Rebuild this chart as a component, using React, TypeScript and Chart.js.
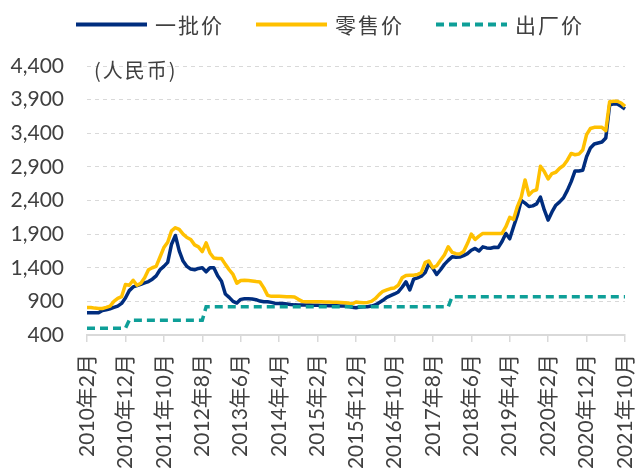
import React, { useEffect, useRef } from 'react';
import { Chart, registerables } from 'chart.js';

Chart.register(...registerables);

// ---- Data ----
const START_YEAR = 2010;
const START_MONTH = 2;
const MONTH_COUNT = 141;
const months: string[] = [];
for (let i = 0; i < MONTH_COUNT; i++) {
  const m = START_MONTH - 1 + i;
  months.push(`${START_YEAR + Math.floor(m / 12)}年${(m % 12) + 1}月`);
}

const seriesNames = ['一批价', '零售价', '出厂价'];

// 一批价 (wholesale)
const wholesale = [
  730, 730, 730, 730, 765, 775, 790, 810, 830, 870,
  950, 1060, 1115, 1135, 1155, 1175, 1195, 1230, 1280, 1370,
  1420, 1480, 1750, 1880, 1650, 1500, 1420, 1380, 1370, 1390,
  1400, 1340, 1400, 1400, 1280, 1200, 1010, 960, 900, 875,
  930, 940, 940, 935, 925, 905, 895, 895, 885, 870,
  870, 868, 860, 852, 848, 846, 846, 846, 846, 844,
  842, 840, 838, 836, 835, 834, 833, 831, 825, 811,
  806, 815, 821, 821, 830, 846, 880, 915, 960, 985,
  1010, 1040, 1110, 1190, 1070, 1230, 1250, 1275, 1330, 1463,
  1390, 1300, 1370, 1450, 1510, 1562, 1555, 1560, 1580, 1610,
  1660, 1687, 1650, 1711, 1695, 1690, 1705, 1700, 1790, 1910,
  1830, 2010, 2180, 2400, 2360, 2310, 2320, 2350, 2450, 2260,
  2110, 2230, 2330, 2380, 2440, 2550, 2680, 2840, 2840, 2850,
  3050, 3180, 3240, 3255, 3270, 3330, 3820, 3836, 3836, 3800,
  3760,
];

// 零售价 (retail)
const retail = [
  810, 810, 800, 795, 795, 810, 830, 900, 945, 970,
  1150, 1140, 1214, 1140, 1170, 1250, 1370, 1400, 1420, 1560,
  1700, 1780, 1950, 1995, 1970, 1900, 1850, 1820, 1740, 1710,
  1640, 1770, 1620, 1545, 1537, 1537, 1450, 1370, 1300, 1170,
  1210, 1214, 1212, 1204, 1195, 1189, 1100, 990, 975, 975,
  975, 972, 970, 968, 965, 930, 900, 895, 895, 895,
  895, 893, 892, 890, 888, 886, 885, 880, 875, 860,
  890, 885, 880, 885, 900, 940, 1000, 1050, 1070, 1090,
  1100, 1140, 1250, 1285, 1288, 1290, 1300, 1330, 1480, 1500,
  1400, 1430, 1510, 1590, 1711, 1630, 1610, 1605, 1640, 1760,
  1900, 1820, 1870, 1911, 1911, 1911, 1911, 1911, 1911, 2010,
  2150, 2120, 2310, 2450, 2706, 2480, 2540, 2560, 2910, 2830,
  2720, 2800, 2820, 2880, 2920, 3000, 3100, 3080, 3090, 3150,
  3380, 3470, 3488, 3488, 3488, 3440, 3870, 3876, 3876, 3850,
  3800,
];

// 出厂价 (ex-factory)
const factory = [
  499, 499, 499, 499, 499, 499, 499, 499, 499, 499,
  499, 619, 619, 619, 619, 619, 619, 619, 619, 619,
  619, 619, 619, 619, 619, 619, 619, 619, 619, 619,
  619, 819, 819, 819, 819, 819, 819, 819, 819, 819,
  819, 819, 819, 819, 819, 819, 819, 819, 819, 819,
  819, 819, 819, 819, 819, 819, 819, 819, 819, 819,
  819, 819, 819, 819, 819, 819, 819, 819, 819, 819,
  819, 819, 819, 819, 819, 819, 819, 819, 819, 819,
  819, 819, 819, 819, 819, 819, 819, 819, 819, 819,
  819, 819, 819, 819, 819, 969, 969, 969, 969, 969,
  969, 969, 969, 969, 969, 969, 969, 969, 969, 969,
  969, 969, 969, 969, 969, 969, 969, 969, 969, 969,
  969, 969, 969, 969, 969, 969, 969, 969, 969, 969,
  969, 969, 969, 969, 969, 969, 969, 969, 969, 969,
  969,
];

const Y_MIN = 400;
const Y_MAX = 4400;
const Y_STEP = 500;
const LABEL_EVERY = 10;
const UNIT_LABEL = '(人民币)';

const COLORS = ['#002D7E', '#FFC000', '#0E9F98'];
const TEXT_COLOR = '#404040';
const GRID_COLOR = '#D9D9D9';
const FONT_FAMILY = "Lato, 'Noto Sans CJK SC', sans-serif";
const CJK_FONT = "'Noto Sans CJK SC', sans-serif";

const legendPlugin = {
  id: 'customLegend',
  afterDraw(chart: any) {
    const ctx: CanvasRenderingContext2D = chart.ctx;
    ctx.save();
    const startX = 76;
    const y = 24.5;
    const lineW = 71;
    const textOff = 79;
    const step = 180;
    chart.data.datasets.forEach((ds: any, i: number) => {
      const x = startX + i * step;
      ctx.beginPath();
      ctx.strokeStyle = ds.borderColor;
      ctx.lineWidth = 4;
      ctx.lineCap = 'butt';
      ctx.setLineDash(ds.borderDash || []);
      ctx.moveTo(x, y);
      ctx.lineTo(x + lineW, y);
      ctx.stroke();
      ctx.setLineDash([]);
      ctx.fillStyle = TEXT_COLOR;
      ctx.font = `21px ${CJK_FONT}`;
      ctx.textBaseline = 'middle';
      ctx.textAlign = 'left';
      (ctx as any).letterSpacing = '2px';
      ctx.fillText(ds.label, x + textOff, y + 1);
    });
    ctx.font = `20px ${CJK_FONT}`;
    (ctx as any).letterSpacing = '2px';
    ctx.fillStyle = TEXT_COLOR;
    ctx.textBaseline = 'middle';
    ctx.textAlign = 'left';
    ctx.fillText(UNIT_LABEL, chart.chartArea.left + 7, chart.chartArea.top + 4);
    ctx.restore();
  },
};

export default function App() {
  const ref = useRef<HTMLCanvasElement>(null);
  useEffect(() => {
    document.body.style.margin = '0';
    const canvas = ref.current;
    if (!canvas) return;
    const chart = new Chart(canvas, {
      type: 'line',
      data: {
        labels: months,
        datasets: [
          {
            label: seriesNames[0],
            data: wholesale,
            borderColor: COLORS[0],
            backgroundColor: COLORS[0],
            borderWidth: 3.5,
            pointRadius: 0,
            tension: 0,
            borderJoinStyle: 'round',
            order: 3,
          },
          {
            label: seriesNames[1],
            data: retail,
            borderColor: COLORS[1],
            backgroundColor: COLORS[1],
            borderWidth: 3.5,
            pointRadius: 0,
            tension: 0,
            borderJoinStyle: 'round',
            order: 2,
          },
          {
            label: seriesNames[2],
            data: factory,
            borderColor: COLORS[2],
            backgroundColor: COLORS[2],
            borderWidth: 3.5,
            borderDash: [8, 5],
            pointRadius: 0,
            tension: 0,
            order: 1,
          },
        ],
      },
      options: {
        animation: false,
        responsive: false,
        devicePixelRatio: 1,
        layout: { padding: { top: 66, right: 10, left: 0, bottom: 0 } },
        plugins: {
          legend: { display: false },
          tooltip: { enabled: false },
        },
        scales: {
          x: {
            type: 'category',
            grid: {
              display: true,
              drawOnChartArea: false,
              drawTicks: true,
              tickLength: 7,
              color: GRID_COLOR,
              lineWidth: 1.5,
            },
            border: { display: true, color: GRID_COLOR, width: 2 },
            ticks: {
              autoSkip: false,
              maxRotation: 90,
              minRotation: 90,
              padding: 12,
              color: TEXT_COLOR,
              font: { family: FONT_FAMILY, size: 21, lineHeight: 1 },
              callback: (_v: any, i: number) => (i % LABEL_EVERY === 0 ? months[i] : null),
            },
            afterFit: (s: any) => {
              s.height = 137;
              s.paddingLeft = 0;
              s.paddingRight = 0;
            },
          },
          y: {
            min: Y_MIN,
            max: Y_MAX,
            grid: { color: GRID_COLOR, lineWidth: 1, drawTicks: false },
            border: { display: false, dash: [4, 4] },
            ticks: {
              stepSize: Y_STEP,
              padding: 23,
              color: TEXT_COLOR,
              font: { family: FONT_FAMILY, size: 21 },
              callback: (v: any) => Number(v).toLocaleString('en-US'),
            },
            afterFit: (s: any) => {
              s.width = 87;
              s.paddingTop = 0;
              s.paddingBottom = 0;
            },
          },
        },
      },
      plugins: [legendPlugin],
    } as any);
    return () => chart.destroy();
  }, []);
  return (
    <div style={{ width: 635, height: 472 }}>
      <canvas ref={ref} width={635} height={472} style={{ display: 'block' }} />
    </div>
  );
}
